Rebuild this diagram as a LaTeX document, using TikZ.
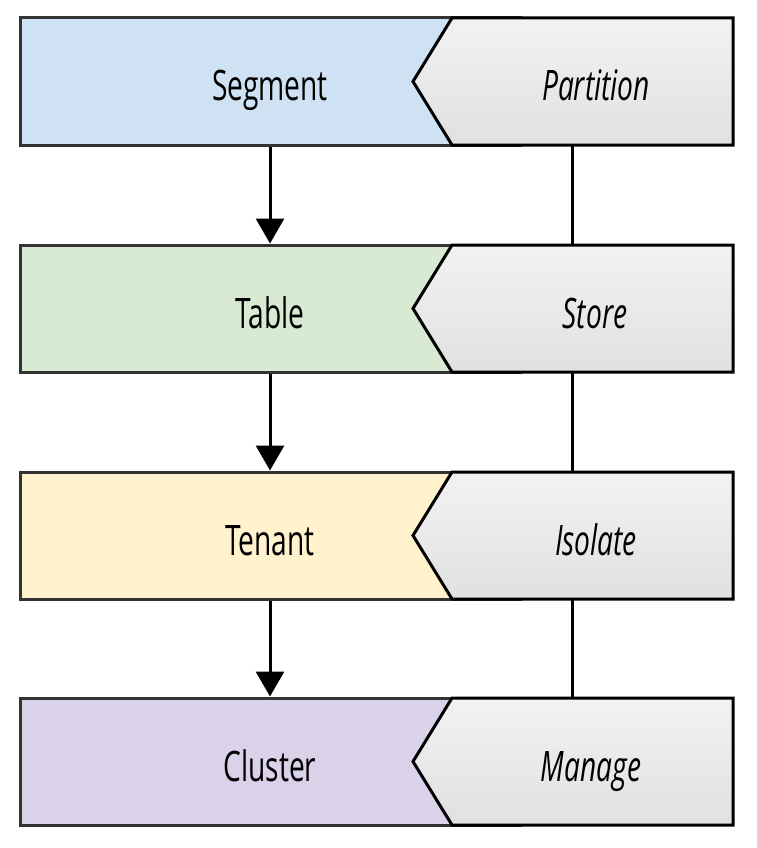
\documentclass[tikz,border=0pt]{standalone}
\usepackage{fontspec}
\setmainfont{Open Sans}[FakeStretch=0.67]
\usetikzlibrary{positioning}
\usetikzlibrary{arrows.meta}
\definecolor{segblue}{HTML}{CFE2F3}
\definecolor{tabgreen}{HTML}{D9EAD3}
\definecolor{tenyellow}{HTML}{FFF2CC}
\definecolor{clupurple}{HTML}{D9D2E9}
\definecolor{boxedge}{HTML}{333333}
\tikzset{
	leftbox/.style={draw=boxedge, line width=3pt, minimum width=500pt, minimum height=127pt, inner sep=0pt},
	chevron/.style={draw=black, line width=3pt, line join=miter, top color=black!5, bottom color=black!12},
	word/.style={anchor=base, font=\fontsize{42}{48}\selectfont},
	verb/.style={anchor=base, font=\fontsize{42}{48}\selectfont\itshape},
	flow/.style={line width=3pt, -{Triangle[length=25pt,width=28pt]}},
	link/.style={line width=3pt}
}

\begin{document}
\begin{tikzpicture}[x=1pt, y=-1pt]
	\useasboundingbox (0,0) rectangle (757,848);
	\node[leftbox, fill=segblue] (segment) at (270, 81.5) {};
	\node[leftbox, fill=tabgreen] (table) at (270, 308.5) {};
	\node[leftbox, fill=tenyellow] (tenant) at (270, 535.5) {};
	\node[leftbox, fill=clupurple] (cluster) at (270, 761.5) {};
	\node[word] (segmenttext) at (270, 101) {Segment};
	\node[word] (tabletext) at (270, 328) {Table};
	\node[word] (tenanttext) at (270, 555) {Tenant};
	\node[word] (clustertext) at (270, 781) {Cluster};
	
	\path[chevron] (452, 18) -- (733, 18) -- (733, 145) -- (452, 145) -- (413, 81.5) -- cycle;
	\path[chevron] (452, 245) -- (733, 245) -- (733, 372) -- (452, 372) -- (413, 308.5) -- cycle;
	\path[chevron] (452, 472) -- (733, 472) -- (733, 599) -- (452, 599) -- (413, 535.5) -- cycle;
	\path[chevron] (452, 698) -- (733, 698) -- (733, 825) -- (452, 825) -- (413, 761.5) -- cycle;
	\node[verb] (partition) at (596, 101) {Partition};
	\node[verb] (store) at (595, 328) {Store};
	\node[verb] (isolate) at (596, 555) {Isolate};
	\node[verb] (manage) at (591, 781) {Manage};
	
	\coordinate (partitionlow) at (572, 145);
	\coordinate (storetop) at (572, 245);
	\coordinate (storelow) at (572, 372);
	\coordinate (isolatetop) at (572, 472);
	\coordinate (isolatelow) at (572, 599);
	\coordinate (managetop) at (572, 698);
	
	\draw[flow] (segment.south) -- (table.north);
	\draw[flow] (table.south) -- (tenant.north);
	\draw[flow] (tenant.south) -- (cluster.north);
	\draw[link] (partitionlow) -- (storetop);
	\draw[link] (storelow) -- (isolatetop);
	\draw[link] (isolatelow) -- (managetop);
\end{tikzpicture}
\end{document}
